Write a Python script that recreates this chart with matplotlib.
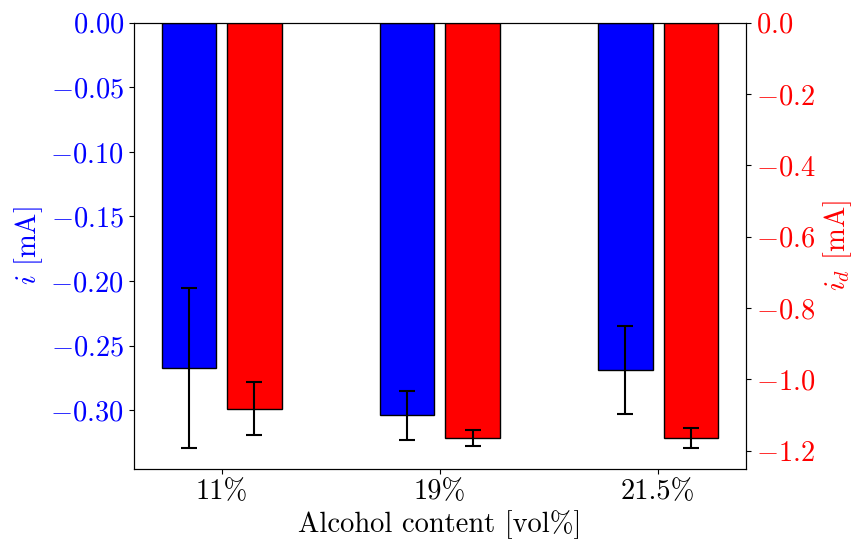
import numpy as np
import matplotlib
matplotlib.use("Agg")
import matplotlib.pyplot as plt

plt.rcParams['font.family'] = 'serif'
plt.rcParams['font.serif'] = ['cmr10']
plt.rcParams['mathtext.fontset'] = 'cm'
plt.rcParams['axes.formatter.use_mathtext'] = True
plt.rcParams['axes.unicode_minus'] = True

categories = ['11%', '19%', '21.5%']
i_mean = [-0.267, -0.304, -0.269]
i_err = [0.062, 0.019, 0.034]
id_mean = [-1.083, -1.165, -1.165]
id_err = [0.074, 0.022, 0.027]

fs = 20.5
x = np.arange(len(categories))
w = 0.25

fig, ax = plt.subplots(figsize=(8.52, 5.4), dpi=100)
fig.subplots_adjust(left=0.157, right=0.8756, top=0.958, bottom=0.1315)
ax2 = ax.twinx()

ax.bar(x - 0.15, i_mean, w, yerr=i_err, color='blue', edgecolor='black',
       capsize=6, error_kw={'elinewidth': 1.5, 'capthick': 1.5})
ax2.bar(x + 0.15, id_mean, w, yerr=id_err, color='red', edgecolor='black',
        capsize=6, error_kw={'elinewidth': 1.5, 'capthick': 1.5})

ax.set_xticks(x)
ax.set_xticklabels(categories, fontsize=fs)
ax.set_xlabel('Alcohol content [vol%]', fontsize=fs)
ax.set_ylabel('$i$ [mA]', color='blue', fontsize=fs)
ax2.set_ylabel('$i_d$ [mA]', color='red', fontsize=fs)
ax.tick_params(axis='y', labelcolor='blue', labelsize=fs)
ax2.tick_params(axis='y', labelcolor='red', labelsize=fs)

fig.savefig('out.png', dpi=100)
